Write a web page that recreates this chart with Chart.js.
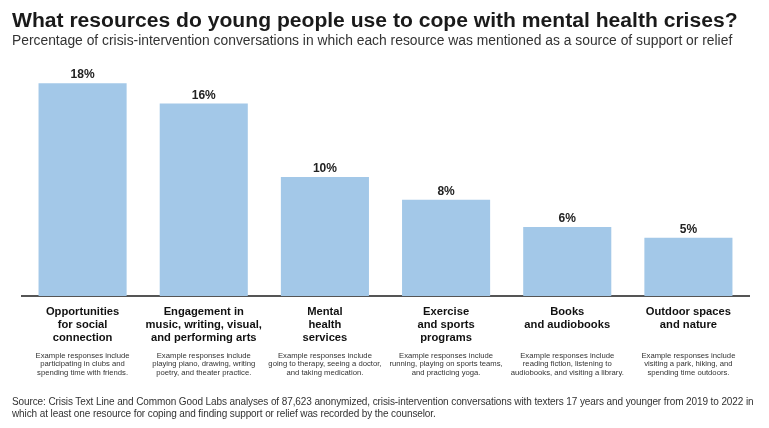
<!DOCTYPE html>
<html>
<head>
<meta charset="utf-8">
<script src="https://cdn.jsdelivr.net/npm/chart.js@4"></script>
<style>
  html, body { margin: 0; padding: 0; background: #fff; }
  #wrap { position: relative; width: 769px; height: 428px; }
  #footer {
    position: absolute; left: 12px; top: 396px; width: 752px;
    font-family: "Liberation Sans", Arial, sans-serif; font-size: 10px;
    line-height: 12px; color: #333; letter-spacing: -0.1px;
  }
</style>
</head>
<body>
<div id="wrap">
  <canvas id="chart" width="769" height="428"></canvas>
  <div id="footer">Source: Crisis Text Line and Common Good Labs analyses of 87,623 anonymized, crisis-intervention conversations with texters 17 years and younger from 2019 to 2022 in which at least one resource for coping and finding support or relief was recorded by the counselor.</div>
</div>
<script>
// 카테고리 (굵은 라벨)
const categories = [
  ["Opportunities", "for social", "connection"],
  ["Engagement in", "music, writing, visual,", "and performing arts"],
  ["Mental", "health", "services"],
  ["Exercise", "and sports", "programs"],
  ["Books", "and audiobooks"],
  ["Outdoor spaces", "and nature"]
];

// 설명 문구
const examples = [
  ["Example responses include", "participating in clubs and", "spending time with friends."],
  ["Example responses include", "playing piano, drawing, writing", "poetry, and theater practice."],
  ["Example responses include", "going to therapy, seeing a doctor,", "and taking medication."],
  ["Example responses include", "running, playing on sports teams,", "and practicing yoga."],
  ["Example responses include", "reading fiction, listening to", "audiobooks, and visiting a library."],
  ["Example responses include", "visiting a park, hiking, and", "spending time outdoors."]
];

// 퍼센트 값
const shares = [17.9, 16.2, 10.0, 8.1, 5.8, 4.9];

const barColor = "rgb(163, 200, 232)";

// 막대 위 값 표시
const valueLabels = {
  id: "valueLabels",
  afterDatasetsDraw(chart) {
    const ctx = chart.ctx;
    const meta = chart.getDatasetMeta(0);
    ctx.save();
    ctx.font = "bold 12px 'Liberation Sans', Arial, sans-serif";
    ctx.fillStyle = "#222";
    ctx.textAlign = "center";
    ctx.textBaseline = "middle";
    meta.data.forEach((bar, i) => {
      ctx.fillText(`${Math.round(shares[i])}%`, bar.x, bar.y - 8);
    });
    ctx.restore();
  }
};

const ctx = document.getElementById("chart").getContext("2d");
const chart = new Chart(ctx, {
  type: "bar",
  data: {
    labels: categories,
    datasets: [{
      data: shares,
      backgroundColor: barColor,
      borderWidth: 0,
      barPercentage: 0.727,
      categoryPercentage: 1
    }]
  },
  options: {
    responsive: false,
    animation: false,
    layout: { padding: { left: 12, right: 20, top: 0, bottom: 46.5 } },
    plugins: {
      legend: { display: false },
      tooltip: { enabled: false },
      title: {
        display: true,
        align: "start",
        text: "What resources do young people use to cope with mental health crises?",
        color: "#1a1a1a",
        font: { family: "'Liberation Sans', Arial, sans-serif", size: 21.1, weight: "bold", lineHeight: 1.0 },
        padding: { top: 11, bottom: 0 }
      },
      subtitle: {
        display: true,
        align: "start",
        text: "Percentage of crisis-intervention conversations in which each resource was mentioned as a source of support or relief",
        color: "#333",
        font: { family: "'Liberation Sans', Arial, sans-serif", size: 13.85, lineHeight: 1.2 },
        padding: { top: 1, bottom: 8.5 }
      }
    },
    scales: {
      x: {
        position: "bottom",
        grid: { display: false, drawTicks: false },
        border: { display: true, color: "#555", width: 2 },
        ticks: {
          autoSkip: false,
          maxRotation: 0,
          minRotation: 0,
          padding: 9,
          color: "#111",
          font: { family: "'Liberation Sans', Arial, sans-serif", size: 11.2, weight: "bold", lineHeight: 1.16 }
        },
        afterFit(scale) { scale.height = 55.5; }
      },
      x2: {
        type: "category",
        position: "bottom",
        labels: examples,
        offset: true,
        grid: { display: false, drawTicks: false },
        border: { display: false },
        ticks: {
          autoSkip: false,
          maxRotation: 0,
          minRotation: 0,
          padding: 0,
          color: "#333",
          font: { family: "'Liberation Sans', Arial, sans-serif", size: 7.7, lineHeight: 1.1 }
        },
        afterFit(scale) { scale.height = 30; }
      },
      y: {
        min: 0,
        max: 20,
        grid: { display: false, drawTicks: false },
        border: { display: false },
        ticks: { display: false },
        afterFit(scale) { scale.width = 10; }
      }
    }
  },
  plugins: [valueLabels]
});
</script>
</body>
</html>
